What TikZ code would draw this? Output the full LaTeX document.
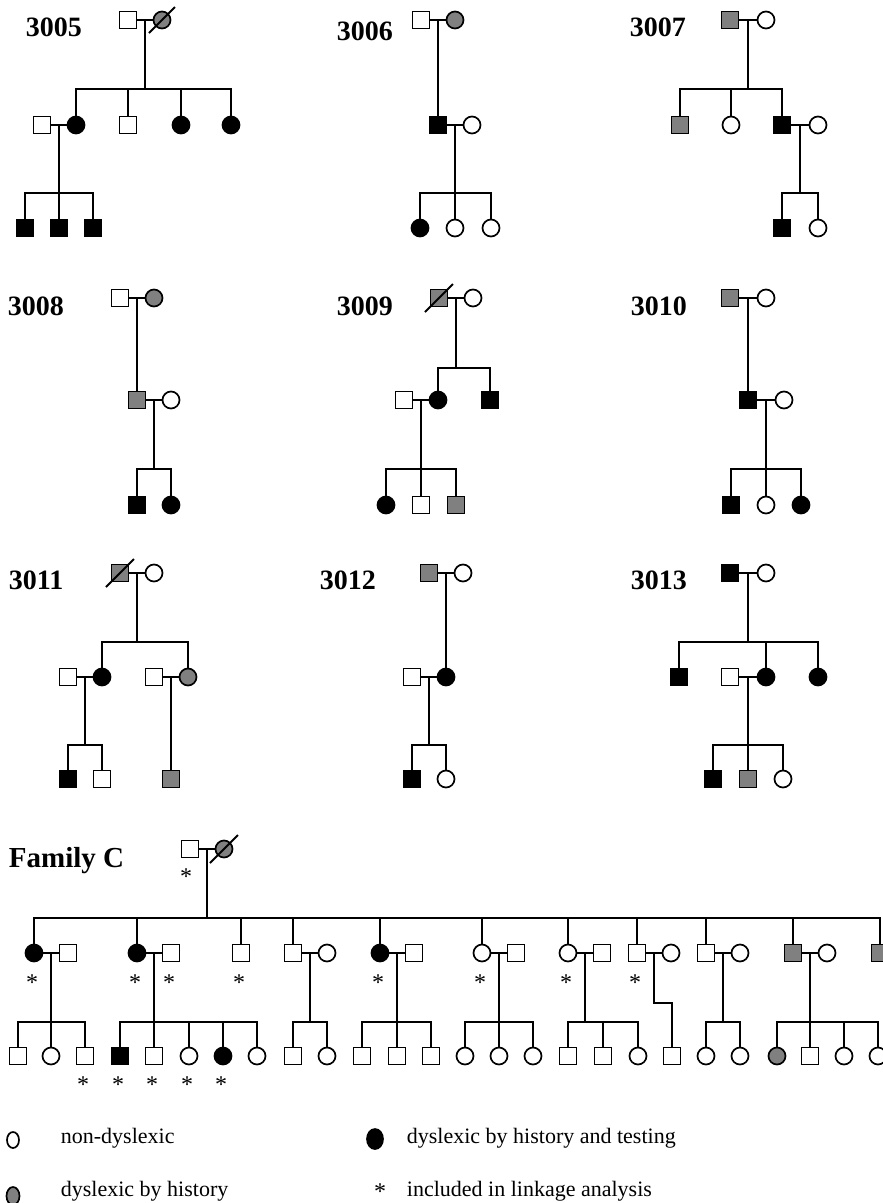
\documentclass[tikz,border=0pt]{standalone}
\usepackage{fontspec}
\setmainfont{Liberation Serif}
\usetikzlibrary{calc,shapes.geometric}
\definecolor{histgrey}{HTML}{808080}

\begin{document}
\begin{tikzpicture}[x=1pt,y=-1pt,line width=1.8pt,
    male/.style={draw,rectangle,minimum size=17pt,inner sep=0pt,fill=white,line width=1.7pt},
    female/.style={draw,circle,minimum size=17pt,inner sep=0pt,fill=white,line width=1.7pt},
    aff/.style={fill=black}, hist/.style={fill=histgrey},
    maleaff/.style={male,aff}, femaleaff/.style={female,aff},
    malehist/.style={male,hist}, femalehist/.style={female,hist},
    famlabel/.style={anchor=base west,inner sep=0pt,font=\fontsize{28}{30}\selectfont\bfseries},
    incl/.style={inner sep=0pt,font=\fontsize{24}{24}\selectfont},
    keysym/.style={draw,ellipse,inner sep=0pt,minimum width=12pt,minimum height=16pt,line width=1.7pt},
    keytext/.style={anchor=base west,inner sep=0pt,font=\fontsize{22}{24}\selectfont}]
  \useasboundingbox (0,0) rectangle (883,1203);
  \clip (0,0) rectangle (883,1203);

  % 3005
  \node[famlabel] (t05) at (25,36) {3005};
  \node[male] (a05) at (128,20) {};
  \node[femalehist] (b05) at (162,20) {};
  \draw (a05) -- (b05);
  \draw ([shift={(-13,13)}]b05.center) -- ([shift={(13,-13)}]b05.center);
  \node[male] (e05) at (42,125) {};
  \node[femaleaff] (d05) at (76,125) {};
  \node[male] (g05) at (128,125) {};
  \node[femaleaff] (h05) at (181,125) {};
  \node[femaleaff] (i05) at (231,125) {};
  \draw (e05) -- (d05);
  \coordinate (c05) at ($(a05)!.5!(b05)$);
  \coordinate (s05) at (c05 |- 0,89);
  \draw (c05) -- (s05);
  \foreach \k in {d05,g05,h05,i05} \draw (\k) |- (s05);
  \node[maleaff] (u05) at (25,228) {};
  \node[maleaff] (v05) at (59,228) {};
  \node[maleaff] (w05) at (93,228) {};
  \coordinate (c05b) at ($(e05)!.5!(d05)$);
  \coordinate (s05b) at (c05b |- 0,193);
  \draw (c05b) -- (s05b);
  \foreach \k in {u05,v05,w05} \draw (\k) |- (s05b);

  % 3006
  \node[famlabel] (t06) at (336,40) {3006};
  \node[male] (a06) at (421,20) {};
  \node[femalehist] (b06) at (455,20) {};
  \draw (a06) -- (b06);
  \coordinate (c06) at ($(a06)!.5!(b06)$);
  \node[maleaff] (d06) at (438,125) {};
  \node[female] (e06) at (472,125) {};
  \draw (c06) -- (d06);
  \draw (d06) -- (e06);
  \node[femaleaff] (u06) at (420,228) {};
  \node[female] (v06) at (455,228) {};
  \node[female] (w06) at (491,228) {};
  \coordinate (c06b) at ($(d06)!.5!(e06)$);
  \coordinate (s06b) at (c06b |- 0,193);
  \draw (c06b) -- (s06b);
  \foreach \k in {u06,v06,w06} \draw (\k) |- (s06b);

  % 3007
  \node[famlabel] (t07) at (629,36) {3007};
  \node[malehist] (a07) at (730,20) {};
  \node[female] (b07) at (766,20) {};
  \draw (a07) -- (b07);
  \node[malehist] (d07) at (680,125) {};
  \node[female] (e07) at (731,125) {};
  \node[maleaff] (f07) at (782,125) {};
  \node[female] (g07) at (818,125) {};
  \draw (f07) -- (g07);
  \coordinate (c07) at ($(a07)!.5!(b07)$);
  \coordinate (s07) at (c07 |- 0,89);
  \draw (c07) -- (s07);
  \foreach \k in {d07,e07,f07} \draw (\k) |- (s07);
  \node[maleaff] (u07) at (782,228) {};
  \node[female] (v07) at (818,228) {};
  \coordinate (c07b) at ($(f07)!.5!(g07)$);
  \coordinate (s07b) at (c07b |- 0,193);
  \draw (c07b) -- (s07b);
  \foreach \k in {u07,v07} \draw (\k) |- (s07b);

  % 3008
  \node[famlabel] (t08) at (7,315) {3008};
  \node[male] (a08) at (120,298) {};
  \node[femalehist] (b08) at (154,298) {};
  \draw (a08) -- (b08);
  \coordinate (c08) at ($(a08)!.5!(b08)$);
  \node[malehist] (d08) at (137,400) {};
  \node[female] (e08) at (171,400) {};
  \draw (c08) -- (d08);
  \draw (d08) -- (e08);
  \node[maleaff] (u08) at (137,505) {};
  \node[femaleaff] (v08) at (171,505) {};
  \coordinate (c08b) at ($(d08)!.5!(e08)$);
  \coordinate (s08b) at (c08b |- 0,469);
  \draw (c08b) -- (s08b);
  \foreach \k in {u08,v08} \draw (\k) |- (s08b);

  % 3009
  \node[famlabel] (t09) at (336,315) {3009};
  \node[malehist] (a09) at (439,298) {};
  \node[female] (b09) at (473,298) {};
  \draw (a09) -- (b09);
  \draw ([shift={(-14,14)}]a09.center) -- ([shift={(14,-14)}]a09.center);
  \node[male] (d09) at (404,400) {};
  \node[femaleaff] (e09) at (438,400) {};
  \node[maleaff] (f09) at (490,400) {};
  \draw (d09) -- (e09);
  \coordinate (c09) at ($(a09)!.5!(b09)$);
  \coordinate (s09) at (c09 |- 0,368);
  \draw (c09) -- (s09);
  \foreach \k in {e09,f09} \draw (\k) |- (s09);
  \node[femaleaff] (u09) at (386,505) {};
  \node[male] (v09) at (421,505) {};
  \node[malehist] (w09) at (456,505) {};
  \coordinate (c09b) at ($(d09)!.5!(e09)$);
  \coordinate (s09b) at (c09b |- 0,469);
  \draw (c09b) -- (s09b);
  \foreach \k in {u09,v09,w09} \draw (\k) |- (s09b);

  % 3010
  \node[famlabel] (t10) at (630,315) {3010};
  \node[malehist] (a10) at (730,298) {};
  \node[female] (b10) at (766,298) {};
  \draw (a10) -- (b10);
  \coordinate (c10) at ($(a10)!.5!(b10)$);
  \node[maleaff] (d10) at (748,400) {};
  \node[female] (e10) at (784,400) {};
  \draw (c10) -- (d10);
  \draw (d10) -- (e10);
  \node[maleaff] (u10) at (731,505) {};
  \node[female] (v10) at (766,505) {};
  \node[femaleaff] (w10) at (801,505) {};
  \coordinate (c10b) at ($(d10)!.5!(e10)$);
  \coordinate (s10b) at (c10b |- 0,469);
  \draw (c10b) -- (s10b);
  \foreach \k in {u10,v10,w10} \draw (\k) |- (s10b);

  % 3011
  \node[famlabel] (t11) at (8,589) {3011};
  \node[malehist] (a11) at (120,573) {};
  \node[female] (b11) at (154,573) {};
  \draw (a11) -- (b11);
  \draw ([shift={(-14,14)}]a11.center) -- ([shift={(14,-14)}]a11.center);
  \node[male] (d11) at (68,677) {};
  \node[femaleaff] (e11) at (102,677) {};
  \node[male] (f11) at (154,677) {};
  \node[femalehist] (g11) at (188,677) {};
  \draw (d11) -- (e11);
  \draw (f11) -- (g11);
  \coordinate (c11) at ($(a11)!.5!(b11)$);
  \coordinate (s11) at (c11 |- 0,642);
  \draw (c11) -- (s11);
  \foreach \k in {e11,g11} \draw (\k) |- (s11);
  \node[maleaff] (u11) at (68,779) {};
  \node[male] (v11) at (102,779) {};
  \coordinate (c11b) at ($(d11)!.5!(e11)$);
  \coordinate (s11b) at (c11b |- 0,745);
  \draw (c11b) -- (s11b);
  \foreach \k in {u11,v11} \draw (\k) |- (s11b);
  \coordinate (c11c) at ($(f11)!.5!(g11)$);
  \node[malehist] (w11) at (171,779) {};
  \draw (c11c) -- (w11);

  % 3012
  \node[famlabel] (t12) at (319,589) {3012};
  \node[malehist] (a12) at (429,573) {};
  \node[female] (b12) at (463,573) {};
  \draw (a12) -- (b12);
  \coordinate (c12) at ($(a12)!.5!(b12)$);
  \node[male] (d12) at (412,677) {};
  \node[femaleaff] (e12) at (446,677) {};
  \draw (c12) -- (e12);
  \draw (d12) -- (e12);
  \node[maleaff] (u12) at (412,779) {};
  \node[female] (v12) at (446,779) {};
  \coordinate (c12b) at ($(d12)!.5!(e12)$);
  \coordinate (s12b) at (c12b |- 0,745);
  \draw (c12b) -- (s12b);
  \foreach \k in {u12,v12} \draw (\k) |- (s12b);

  % 3013
  \node[famlabel] (t13) at (630,589) {3013};
  \node[maleaff] (a13) at (730,573) {};
  \node[female] (b13) at (766,573) {};
  \draw (a13) -- (b13);
  \node[maleaff] (d13) at (679,677) {};
  \node[male] (e13) at (730,677) {};
  \node[femaleaff] (f13) at (766,677) {};
  \node[femaleaff] (g13) at (818,677) {};
  \draw (e13) -- (f13);
  \coordinate (c13) at ($(a13)!.5!(b13)$);
  \coordinate (s13) at (c13 |- 0,642);
  \draw (c13) -- (s13);
  \foreach \k in {d13,f13,g13} \draw (\k) |- (s13);
  \node[maleaff] (u13) at (713,779) {};
  \node[malehist] (v13) at (748,779) {};
  \node[female] (w13) at (783,779) {};
  \coordinate (c13b) at ($(e13)!.5!(f13)$);
  \coordinate (s13b) at (c13b |- 0,745);
  \draw (c13b) -- (s13b);
  \foreach \k in {u13,v13,w13} \draw (\k) |- (s13b);

  % Family C
  \node[famlabel,font=\fontsize{29}{31}\selectfont\bfseries] (tC) at (8,867) {Family C};
  \node[male] (fC) at (190,849) {};
  \node[femalehist] (mC) at (224,849) {};
  \draw (fC) -- (mC);
  \draw ([shift={(-14,14)}]mC.center) -- ([shift={(14,-14)}]mC.center);
  \node[incl] (stC) at ($(fC)+(-4,28)$) {*};
  \coordinate (cC) at ($(fC)!.5!(mC)$);
  \coordinate (sC) at (cC |- 0,918);
  \draw (cC) -- (sC);
  \foreach \x/\s [count=\i] in {34/femaleaff,137/femaleaff,241/male,293/male,380/femaleaff,
      482/female,568/female,637/male,706/male,793/malehist,880/malehist}
    {\node[\s] (C\i) at (\x,953) {};
     \draw (C\i) |- (sC);}
  \draw (sC) -- (C11 |- sC);
  \foreach \x/\s/\i in {68/male/1,171/male/2,327/female/4,414/male/5,516/male/6,
      602/male/7,671/female/8,740/female/9,827/female/10}
    {\node[\s] (S\i) at (\x,953) {};
     \draw (C\i) -- (S\i);}
  \foreach \g/\kids in {1/{18/male,51/female,85/male},
      2/{120/maleaff,154/male,189/female,223/femaleaff,257/female},
      4/{293/male,327/female}, 5/{362/male,397/male,431/male},
      6/{465/female,499/female,533/female}, 7/{568/male,603/male,638/female},
      9/{706/female,740/female}, 10/{777/femalehist,810/male,844/female,878/female}}
    {\coordinate (m\g) at ($(C\g)!.5!(S\g)$);
     \coordinate (b\g) at (m\g |- 0,1022);
     \draw (m\g) -- (b\g);
     \foreach \x/\s [count=\i] in \kids
       {\node[\s] (k\g-\i) at (\x,1056) {};
        \draw (k\g-\i) |- (b\g);}}
  \coordinate (m8) at ($(C8)!.5!(S8)$);
  \coordinate (j8) at (m8 |- 0,1003);
  \node[male] (k8-1) at (672,1056) {};
  \draw (m8) -- (j8) -| (k8-1);
  \foreach \n [count=\i] in {C1,C2,S2,C3,C5,C6,C7,C8}
    \node[incl] (st\i) at ($(\n)+(-2,30)$) {*};
  \foreach \n [count=\i] in {k1-3,k2-1,k2-2,k2-3,k2-4}
    \node[incl] (sk\i) at ($(\n)+(-2,29)$) {*};

  % key
  \node[keysym,fill=white] (kw) at (13,1140) {};
  \node[keytext] (kwt) at (60,1143) {non-dyslexic};
  \node[keysym,fill=black,minimum width=16pt,minimum height=20pt] (kb) at (375,1139) {};
  \node[keytext] (kbt) at (406,1143) {dyslexic by history and testing};
  \node[keysym,fill=histgrey,minimum width=13pt,minimum height=18pt] (kg) at (13,1196) {};
  \node[keytext] (kgt) at (60,1196) {dyslexic by history};
  \node[incl] (ks) at (380,1192) {*};
  \node[keytext] (kst) at (406,1196) {included in linkage analysis};
\end{tikzpicture}
\end{document}
